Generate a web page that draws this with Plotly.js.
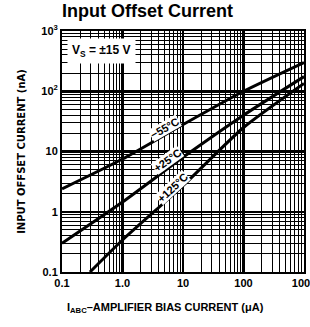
<!DOCTYPE html>
<html>
<head>
<meta charset="utf-8">
<script src="https://cdn.plot.ly/plotly-3.0.1.min.js"></script>
<style>html,body{margin:0;padding:0;background:#fff;}#chart{width:310px;height:327px;}</style>
</head>
<body>
<div id="chart"></div>
<script>
// Data (IABC in µA, offset current in nA)
const iabc_m55 = [0.1, 1, 10, 100, 1000];
const ios_m55  = [2.4, 7.5, 28, 100, 300];
const iabc_p25 = [0.1, 1, 10, 100, 1000];
const ios_p25  = [0.3, 1.45, 8, 40, 175];
const iabc_p125 = [0.29, 1, 10, 100, 1000];
const ios_p125  = [0.1, 0.34, 2.7, 25, 135];

const xTickVals = [0.1, 1, 10, 100, 1000];
const xTickText = ['0.1', '1.0', '10', '100', '1000'];
const yTickVals = [0.1, 1, 10, 100, 1000];
const yTickText = ['0.1', '1', '10', '10<sup>2</sup>', '10<sup>3</sup>'];

const curveLabels = [
  {text: '\u221255\u00b0C', x: 5.0, y: 25, angle: -30},
  {text: '+25\u00b0C', x: 5.6, y: 7.2, angle: -36},
  {text: '+125\u00b0C', x: 6.6, y: 2.5, angle: -43}
];

const traces = [
  {x: iabc_m55, y: ios_m55},
  {x: iabc_p25, y: ios_p25},
  {x: iabc_p125, y: ios_p125}
].map(t => Object.assign(t, {
  mode: 'lines', hoverinfo: 'skip',
  line: {color: '#000', width: 3, shape: 'spline', smoothing: 0.6}
}));

const FAM = 'Liberation Sans, Arial, sans-serif';
const tickFont = {family: FAM, size: 11, color: '#000', weight: 'bold'};

const axisCommon = {
  type: 'log',
  showline: true, mirror: true, linecolor: '#000', linewidth: 2,
  showgrid: true, gridcolor: '#000', gridwidth: 2.5,
  zeroline: false, ticks: '',
  tickmode: 'array',
  tickfont: tickFont,
  ticklabeloverflow: 'allow',
  minor: {dtick: 'D1', showgrid: true, gridcolor: '#000', gridwidth: 1, ticks: ''}
};

const annotations = curveLabels.map(c => ({
  x: Math.log10(c.x), y: Math.log10(c.y), xref: 'x', yref: 'y',
  xanchor: 'center', yanchor: 'middle',
  text: '<b>' + c.text + '</b>', showarrow: false, textangle: c.angle,
  bgcolor: '#fff', borderpad: 0,
  font: {family: FAM, size: 11, color: '#000'}
}));
annotations.push({
  x: (101 - 62) / 242, y: (272 - 51) / 241, xref: 'paper', yref: 'paper',
  xanchor: 'center', yanchor: 'middle',
  text: '<b>V<sub>S</sub> = \u00b115 V</b>', showarrow: false,
  bgcolor: '#fff', borderpad: 4,
  font: {family: FAM, size: 12, color: '#000'}
});
annotations.push({
  x: (165 - 62) / 242, y: -36 / 241, xref: 'paper', yref: 'paper',
  xanchor: 'center', yanchor: 'middle',
  text: '<b>I<sub>ABC</sub>\u2013AMPLIFIER BIAS CURRENT (\u03bcA)</b>', showarrow: false,
  font: {family: FAM, size: 11, color: '#000'}
});

const layout = {
  width: 310, height: 327,
  margin: {l: 62, r: 6, t: 31, b: 55},
  paper_bgcolor: '#fff', plot_bgcolor: '#fff',
  showlegend: false,
  title: {
    text: '<b>Input Offset Current</b>',
    x: 62 / 310, xanchor: 'left', xref: 'container',
    y: 1 - 11 / 327, yanchor: 'middle', yref: 'container',
    font: {family: FAM, size: 18, color: '#000'}
  },
  xaxis: Object.assign({}, axisCommon, {
    range: [-1, 3], tickvals: xTickVals, ticktext: xTickText
  }),
  yaxis: Object.assign({}, axisCommon, {
    range: [-1, 3], tickvals: yTickVals, ticktext: yTickText,
    title: {text: '<b>INPUT OFFSET CURRENT (nA)</b>', standoff: 14,
      font: {family: 'DejaVu Sans, sans-serif', size: 10, color: '#000'}}
  }),
  annotations: annotations
};

Plotly.newPlot('chart', traces, layout, {displayModeBar: false, staticPlot: true});
</script>
</body>
</html>
